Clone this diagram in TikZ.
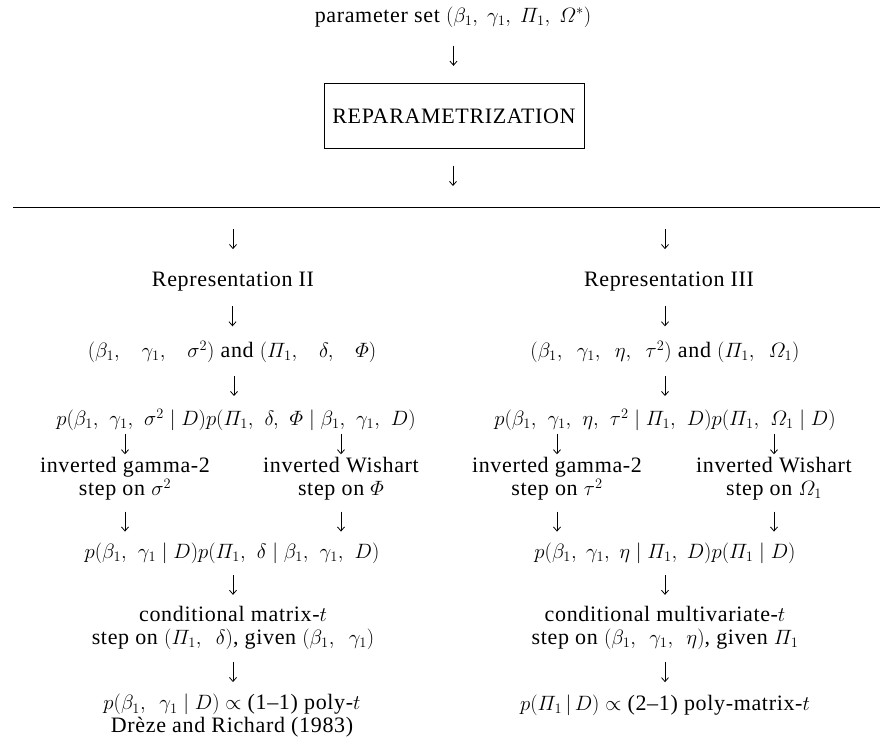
\documentclass[tikz,border=0pt]{standalone}
\usepackage{amsmath}
\usepackage{fontspec}
\setmainfont[LetterSpace=3]{Liberation Serif}
\usetikzlibrary{arrows.meta,calc}
\newmuskip\csk
\csk=5mu
\newcommand{\cc}{,\mskip\csk}
\newcommand{\gv}{\;|\;}
\begin{document}
\begin{tikzpicture}[x=1pt,y=-1pt,
  txt/.style={font=\fontsize{22}{23}\selectfont, inner sep=1pt, align=center},
  sp/.style={execute at begin node={\csk=#1mu\relax}},
  down/.style={draw, line width=0.8pt, -{Straight Barb[length=4pt,width=7pt]},
    to path={let \p1=($(\tikztostart)!0.5!(\tikztotarget)$) in (\x1,\y1+10pt) -- (\x1,\y1-10pt)}}]
\useasboundingbox (0,0) rectangle (885,742);
% top part
\node[txt] (top) at (453,17) {parameter set $(\beta_1\cc \gamma_1\cc \varPi_1\cc \varOmega^*)$};
\node[txt, draw, line width=0.9pt, minimum width=260, minimum height=65] (rep) at (454,116) {REPARAMETRIZATION};
\coordinate (hl) at (452,207);
\draw[line width=0.8pt] (13,207) -- (880,207);
\draw[down] (top.south) to (rep.north);
\draw[down] (rep.south) to ([yshift=4pt]hl);
% left column
\node[txt] (rtwo) at (233,282) {Representation II};
\node[txt, sp=16] (atwo) at (232,352) {$(\beta_1\cc \gamma_1\cc \sigma^2)$ and $(\varPi_1\cc \delta\cc \varPhi)$};
\node[txt, sp=6.5] (ptwo) at (236,420) {$p(\beta_1\cc \gamma_1\cc \sigma^2 \gv D)p(\varPi_1\cc \delta\cc \varPhi \gv \beta_1\cc \gamma_1\cc D)$};
\node[txt] (gtwo) at (125,479) {inverted gamma-2\\step on $\sigma^2$};
\node[txt] (wtwo) at (341,479) {inverted Wishart\\step on $\varPhi$};
\node[txt, sp=6.7] (qtwo) at (232,553) {$p(\beta_1\cc \gamma_1 \gv D)p(\varPi_1\cc \delta \gv \beta_1\cc \gamma_1\cc D)$};
\node[txt, sp=9.5] (ctwo) at (233,628) {conditional matrix-$t$\\step on $(\varPi_1\cc \delta)$, given $(\beta_1\cc \gamma_1)$};
\node[txt, sp=9] (ftwo) at (232,716) {$p(\beta_1\cc \gamma_1 \gv D) \propto$ (1–1) poly-$t$\\Drèze and Richard (1983)};
\draw[down] (hl -| rtwo) to (rtwo.north);
\draw[down] (rtwo.south) to (atwo.north);
\draw[down] (atwo.south) to (ptwo.north);
\draw[down] (ptwo.south -| gtwo) to (gtwo.north);
\draw[down] (ptwo.south -| wtwo) to (wtwo.north);
\draw[down] (gtwo.south) to (qtwo.north -| gtwo);
\draw[down] (wtwo.south) to (qtwo.north -| wtwo);
\draw[down] (qtwo.south -| ctwo) to (ctwo.north);
\draw[down] (ctwo.south) to (ftwo.north -| ctwo);
% right column
\node[txt] (rthree) at (669,282) {Representation III};
\node[txt, sp=9.5] (athree) at (665,352) {$(\beta_1\cc \gamma_1\cc \eta\cc \tau^2)$ and $(\varPi_1\cc \varOmega_1)$};
\node[txt, sp=6.6] (pthree) at (665,420) {$p(\beta_1\cc \gamma_1\cc \eta\cc \tau^2 \gv \varPi_1\cc D)p(\varPi_1\cc \varOmega_1 \gv D)$};
\node[txt] (gthree) at (557,479) {inverted gamma-2\\step on $\tau^2$};
\node[txt] (wthree) at (774,479) {inverted Wishart\\step on $\varOmega_1$};
\node[txt, sp=5.2] (qthree) at (665,553) {$p(\beta_1\cc \gamma_1\cc \eta \gv \varPi_1\cc D)p(\varPi_1 \gv D)$};
\node[txt, sp=8.6] (cthree) at (665,628) {conditional multivariate-$t$\\step on $(\beta_1\cc \gamma_1\cc \eta)$, given $\varPi_1$};
\node[txt] (fthree) at (665,705) {$p(\varPi_1 \,|\, D) \propto$ (2–1) poly-matrix-$t$};
\draw[down] (hl -| athree) to (rthree.north -| athree);
\draw[down] (rthree.south -| athree) to (athree.north);
\draw[down] (athree.south) to (pthree.north);
\draw[down] (pthree.south -| gthree) to (gthree.north);
\draw[down] (pthree.south -| wthree) to (wthree.north);
\draw[down] (gthree.south) to (qthree.north -| gthree);
\draw[down] (wthree.south) to (qthree.north -| wthree);
\draw[down] (qthree.south) to (cthree.north);
\draw[down] (cthree.south) to (fthree.north);
\end{tikzpicture}
\end{document}
